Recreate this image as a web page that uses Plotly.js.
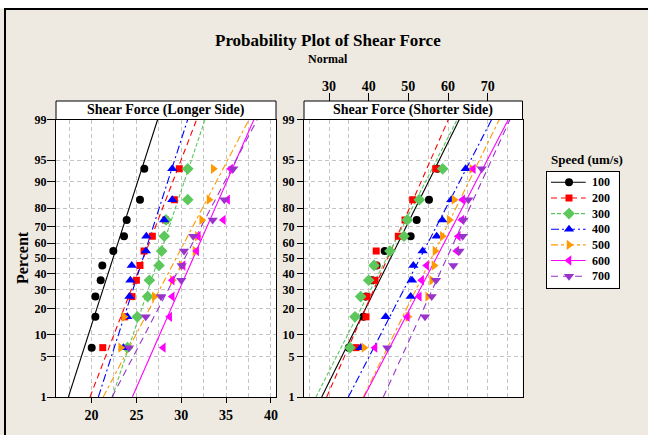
<!DOCTYPE html>
<html><head><meta charset="utf-8">
<script src="https://cdn.plot.ly/plotly-3.0.1.min.js"></script>
<style>html,body{margin:0;padding:0;background:#fff;}#chart{width:648px;height:435px;}</style>
</head><body><div id="chart"></div>
<script>
// ---------------- data ----------------
const speeds = ['100', '200', '300', '400', '500', '600', '700'];
// plotting positions (percent) of the 10 ranked observations in each group
const percents = [6.7, 16.3, 26.0, 35.6, 45.2, 54.8, 64.4, 74.0, 83.7, 93.3];
const percentTicks = [1, 5, 10, 20, 30, 40, 50, 60, 70, 80, 90, 95, 99];
const longerTicks = [20, 25, 30, 35, 40];
const shorterTicks = [30, 40, 50, 60, 70];

// Shear Force (Longer Side), ranked values per speed
const long100 = [20.02, 20.43, 20.43, 21.02, 21.20, 22.43, 23.62, 23.92, 25.40, 25.88];
const long200 = [21.25, 23.70, 24.51, 25.00, 25.40, 25.85, 26.78, 28.25, 29.23, 29.78];
const long300 = [24.00, 25.10, 26.26, 26.45, 27.52, 27.82, 28.11, 28.30, 30.72, 30.72];
const long400 = [23.55, 23.99, 24.22, 24.33, 24.48, 26.07, 26.11, 28.10, 29.00, 29.00];
const long500 = [23.25, 23.62, 27.00, 29.00, 30.00, 31.53, 31.80, 32.28, 33.09, 33.57];
const long600 = [28.00, 28.71, 29.00, 29.00, 30.20, 31.72, 31.90, 34.69, 35.17, 35.50];
const long700 = [24.18, 26.04, 27.74, 30.00, 30.05, 30.31, 31.34, 33.50, 34.80, 35.80];
// fitted line values at 1% and 99%
const longFit1 = [17.42, 19.83, 22.30, 20.76, 21.30, 24.55, 22.29];
const longFit99 = [27.37, 31.72, 32.65, 30.72, 37.55, 38.10, 38.47];

// Shear Force (Shorter Side), ranked values per speed
const short100 = [35.00, 38.65, 39.30, 40.80, 42.00, 44.03, 50.58, 52.10, 55.20, 57.30];
const short200 = [36.80, 39.33, 39.58, 41.60, 41.80, 41.90, 47.47, 49.16, 51.09, 56.89];
const short300 = [35.29, 36.55, 37.98, 40.00, 41.34, 45.37, 48.90, 49.74, 52.77, 58.65];
const short400 = [37.98, 44.29, 50.58, 50.92, 51.26, 53.60, 57.14, 58.56, 60.83, 64.45];
const short500 = [38.80, 49.90, 54.87, 55.88, 56.46, 56.72, 58.56, 60.32, 61.50, 65.96];
const short600 = [41.60, 49.74, 52.77, 53.36, 54.62, 62.20, 62.60, 63.50, 63.69, 66.38];
const short700 = [44.70, 54.20, 55.88, 56.97, 61.34, 62.90, 63.69, 63.90, 65.11, 68.48];
const shortFit1 = [28.16, 29.42, 26.72, 34.87, 38.65, 38.82, 43.69];
const shortFit99 = [62.85, 60.08, 62.30, 71.00, 72.93, 75.20, 75.62];

// ---------------- styles ----------------
const colors = ['#000000', '#FF0000', '#5CC85C', '#0000FF', '#FF9900', '#FF00FF', '#9933CC'];
const symbols = ['circle', 'square', 'diamond', 'triangle-up', 'triangle-right', 'triangle-left', 'triangle-down'];
const msizes = [8, 7, 9, 9, 9, 9, 9];
const dashes = ['solid', '6px,4px', '4px,2px', '8px,3px,2px,3px', '7px,3px,3px,3px', 'solid', '7px,5px'];

const longData = [long100, long200, long300, long400, long500, long600, long700];
const shortData = [short100, short200, short300, short400, short500, short600, short700];

// inverse standard normal CDF (probability axis scale)
function normInv(p) {
  const a = [-3.969683028665376e+01, 2.209460984245205e+02, -2.759285104469687e+02, 1.383577518672690e+02, -3.066479806614716e+01, 2.506628277459239e+00];
  const b = [-5.447609879822406e+01, 1.615858368580409e+02, -1.556989798598866e+02, 6.680131188771972e+01, -1.328068155288572e+01];
  const c = [-7.784894002430293e-03, -3.223964580411365e-01, -2.400758277161838e+00, -2.549671348608906e+00, 4.374664141464968e+00, 2.938163982698783e+00];
  const d = [7.784695709041462e-03, 3.224671290700398e-01, 2.445134137142996e+00, 3.754408661907416e+00];
  const plow = 0.02425, phigh = 1 - plow;
  let q, r;
  if (p < plow) { q = Math.sqrt(-2 * Math.log(p)); return (((((c[0]*q+c[1])*q+c[2])*q+c[3])*q+c[4])*q+c[5]) / ((((d[0]*q+d[1])*q+d[2])*q+d[3])*q+1); }
  if (p > phigh) { q = Math.sqrt(-2 * Math.log(1 - p)); return -(((((c[0]*q+c[1])*q+c[2])*q+c[3])*q+c[4])*q+c[5]) / ((((d[0]*q+d[1])*q+d[2])*q+d[3])*q+1); }
  q = p - 0.5; r = q * q;
  return (((((a[0]*r+a[1])*r+a[2])*r+a[3])*r+a[4])*r+a[5])*q / (((((b[0]*r+b[1])*r+b[2])*r+b[3])*r+b[4])*r+1);
}
const zPts = percents.map(p => normInv(p / 100));
const zTicks = percentTicks.map(p => normInv(p / 100));
const zLo = normInv(0.01), zHi = normInv(0.99);

const FONT = '"Liberation Serif", "Times New Roman", serif';
const W = 648, H = 435;
const px = v => v / W, py = v => 1 - v / H;

const traces = [];
function addPanel(dataSets, fit1, fit99, xa, ya) {
  for (let i = 0; i < speeds.length; i++) {
    traces.push({x: [fit1[i], fit99[i]], y: [zLo, zHi], xaxis: xa, yaxis: ya, mode: 'lines',
      line: {color: colors[i], width: 1.1, dash: dashes[i]}, hoverinfo: 'skip', showlegend: false});
  }
  for (let i = 0; i < speeds.length; i++) {
    traces.push({x: dataSets[i], y: zPts, xaxis: xa, yaxis: ya, mode: 'markers', name: speeds[i],
      marker: {color: colors[i], symbol: symbols[i], size: msizes[i], line: {width: 0}}, showlegend: false});
  }
}
addPanel(longData, longFit1, longFit99, 'x', 'y');
addPanel(shortData, shortFit1, shortFit99, 'x2', 'y2');
// dummy for top axis
traces.push({x: [50], y: [0], xaxis: 'x3', yaxis: 'y2', mode: 'markers', marker: {opacity: 0}, hoverinfo: 'skip', showlegend: false});

// custom legend samples
for (let i = 0; i < speeds.length; i++) {
  traces.push({x: [4, 38.7], y: [i, i], xaxis: 'x4', yaxis: 'y4', mode: 'lines',
    line: {color: colors[i], width: 1.1, dash: dashes[i]}, hoverinfo: 'skip', showlegend: false});
  traces.push({x: [22], y: [i], xaxis: 'x4', yaxis: 'y4', mode: 'markers', name: speeds[i],
    marker: {color: colors[i], symbol: symbols[i], size: msizes[i]}, showlegend: false});
}

const gridCol = '#C4C4C4', gridDash = '4px,3px';
const yCommon = {
  range: [zLo, zHi], tickmode: 'array', tickvals: zTicks, ticktext: percentTicks.map(String),
  ticks: 'outside', tickcolor: '#000', tickfont: {family: FONT, size: 12, color: '#000', weight: 'bold'},
  showline: true, mirror: true, linecolor: '#000', linewidth: 1,
  showgrid: true, gridcolor: gridCol, griddash: gridDash, gridwidth: 1, zeroline: false, fixedrange: true
};

const layout = {
  width: W, height: H, margin: {l: 0, r: 0, t: 0, b: 0, pad: 0},
  paper_bgcolor: '#EEEAE1', plot_bgcolor: '#FFFFFF', showlegend: false,
  font: {family: FONT, color: '#000', size: 12, weight: 'bold'},
  xaxis: {domain: [px(56), px(276)], range: [16.04, 40.56], anchor: 'y', tickmode: 'array', tickvals: longerTicks,
    ticks: 'outside', ticklen: 5, tickcolor: '#000', tickfont: {family: FONT, size: 14, color: '#000', weight: 'bold'},
    showline: true, mirror: true, linecolor: '#000', linewidth: 1,
    showgrid: true, gridcolor: gridCol, griddash: gridDash, gridwidth: 1,
    minor: {dtick: 2.5, tick0: 0, showgrid: true, gridcolor: gridCol, griddash: gridDash, gridwidth: 1, ticks: ''},
    zeroline: false, fixedrange: true},
  yaxis: Object.assign({}, yCommon, {domain: [py(397), py(119.5)], anchor: 'x', ticklen: 8, ticklabelstandoff: -2}),
  xaxis2: {domain: [px(304), px(522.5)], range: [23.7, 78.77], anchor: 'y2', dtick: 5, tick0: 0,
    showticklabels: false, ticks: '', showline: true, mirror: true, linecolor: '#000', linewidth: 1,
    showgrid: true, gridcolor: gridCol, griddash: gridDash, gridwidth: 1, zeroline: false, fixedrange: true},
  yaxis2: Object.assign({}, yCommon, {domain: [py(397), py(119.5)], anchor: 'x2', ticklen: 6}),
  xaxis3: {overlaying: 'x2', anchor: 'free', position: py(101), side: 'top', range: [23.7, 78.77],
    tickmode: 'array', tickvals: shorterTicks, ticks: 'outside', ticklen: 8, tickcolor: '#000', ticklabelstandoff: -4,
    tickfont: {family: FONT, size: 14, color: '#000', weight: 'bold'},
    showgrid: false, showline: false, zeroline: false, fixedrange: true},
  xaxis4: {domain: [px(547), px(618.7)], range: [0, 71.7], anchor: 'y4', showticklabels: false, ticks: '',
    showgrid: false, zeroline: false, showline: true, mirror: true, linecolor: '#000', linewidth: 1, fixedrange: true},
  yaxis4: {domain: [py(287.7), py(171.7)], range: [6.735, -0.677], anchor: 'x4', showticklabels: false, ticks: '',
    showgrid: false, zeroline: false, showline: true, mirror: true, linecolor: '#000', linewidth: 1, fixedrange: true},
  shapes: [
    {type: 'rect', xref: 'paper', yref: 'paper', x0: -0.01, x1: 1.01, y0: py(8.5), y1: 1.01, fillcolor: '#FFFFFF', line: {width: 0}, layer: 'below'},
    {type: 'line', xref: 'paper', yref: 'paper', x0: px(4), x1: 1.01, y0: py(9), y1: py(9), line: {color: '#000', width: 2}},
    {type: 'line', xref: 'paper', yref: 'paper', x0: px(5), x1: px(5), y0: py(8), y1: -0.01, line: {color: '#000', width: 2}},
    {type: 'rect', xref: 'paper', yref: 'paper', x0: px(56), x1: px(276), y0: py(119.5), y1: py(101), fillcolor: '#FFFFFF', line: {color: '#000', width: 1}},
    {type: 'rect', xref: 'paper', yref: 'paper', x0: px(304), x1: px(522.5), y0: py(119.5), y1: py(101), fillcolor: '#FFFFFF', line: {color: '#000', width: 1}}
  ],
  annotations: [
    {text: 'Probability Plot of Shear Force', xref: 'paper', yref: 'paper', x: px(328), y: py(40), showarrow: false,
      font: {family: FONT, size: 17, color: '#000', weight: 'bold'}, xanchor: 'center', yanchor: 'middle'},
    {text: 'Normal', xref: 'paper', yref: 'paper', x: px(328), y: py(59), showarrow: false,
      font: {family: FONT, size: 12, color: '#000', weight: 'bold'}, xanchor: 'center', yanchor: 'middle'},
    {text: 'Shear Force (Longer Side)', xref: 'paper', yref: 'paper', x: px(166), y: py(110.25), showarrow: false,
      font: {family: FONT, size: 14, color: '#000', weight: 'bold'}, xanchor: 'center', yanchor: 'middle'},
    {text: 'Shear Force (Shorter Side)', xref: 'paper', yref: 'paper', x: px(413.25), y: py(110.25), showarrow: false,
      font: {family: FONT, size: 14, color: '#000', weight: 'bold'}, xanchor: 'center', yanchor: 'middle'},
    {text: 'Percent', xref: 'paper', yref: 'paper', x: px(22), y: py(258), showarrow: false, textangle: -90,
      font: {family: FONT, size: 16, color: '#000', weight: 'bold'}, xanchor: 'center', yanchor: 'middle'},
    {text: 'Speed (um/s)', xref: 'paper', yref: 'paper', x: px(586.7), y: py(159), showarrow: false,
      font: {family: FONT, size: 13, color: '#000', weight: 'bold'}, xanchor: 'center', yanchor: 'middle'}
  ].concat(speeds.map((s, i) => ({text: s, xref: 'x4', yref: 'y4', x: 43, y: i, showarrow: false,
      xanchor: 'left', yanchor: 'middle', font: {family: FONT, size: 12, color: '#000', weight: 'bold'}})))
};

Plotly.newPlot('chart', traces, layout, {displayModeBar: false, staticPlot: true});
</script>
</body></html>
